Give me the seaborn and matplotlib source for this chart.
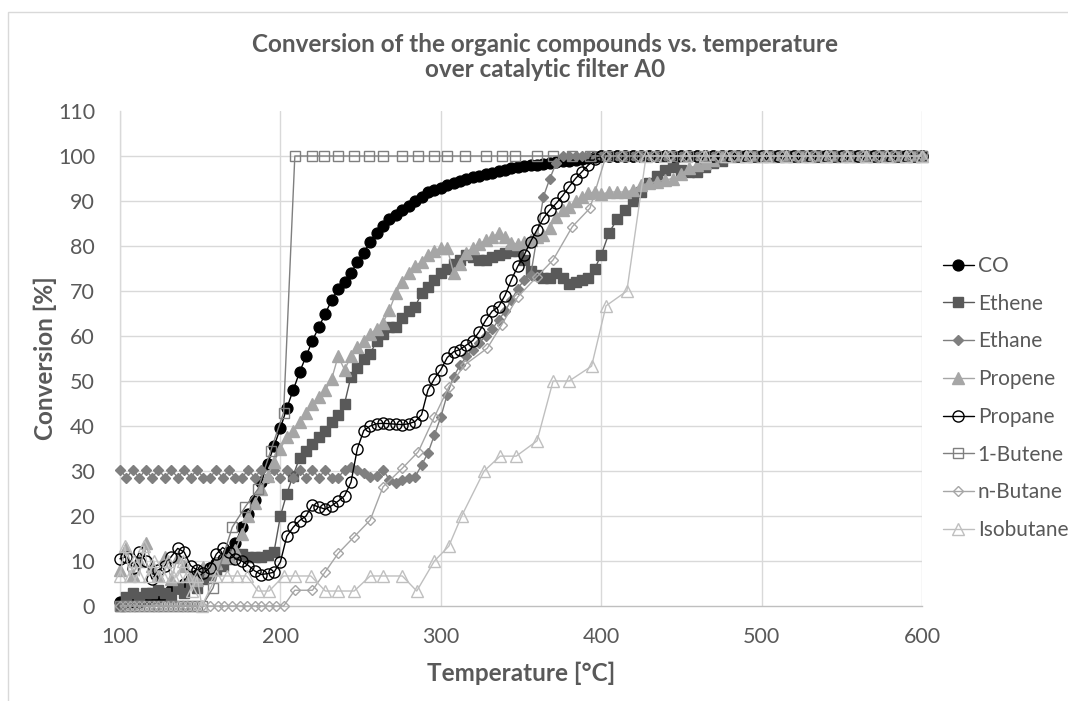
import matplotlib
matplotlib.use("Agg")
import matplotlib.pyplot as plt
import seaborn as sns
import pandas as pd
from matplotlib.patches import Rectangle

# ---------------- data ----------------
temp_dense = [100, 104, 108, 112, 116, 120, 124, 128, 132, 136, 140, 144, 148, 152, 156, 160,
              164, 168, 172, 176, 180, 184, 188, 192, 196, 200, 204, 208, 212, 216, 220, 224,
              228, 232, 236, 240, 244, 248, 252, 256, 260, 264, 268, 272, 276, 280, 284, 288,
              292, 296, 300, 304, 308, 312, 316, 320, 324, 328, 332, 336, 340, 344, 348, 352,
              356, 360, 364, 368, 372, 376, 380, 384, 388, 392, 396, 400,
              405, 410, 415, 420, 425, 430, 435, 440, 445, 450, 455, 460, 465, 470, 475, 480,
              485, 490, 495, 500, 505, 510, 515, 520, 525, 530, 535, 540, 545, 550, 555, 560,
              565, 570, 575, 580, 585, 590, 595, 600]

co = [1, 1, 1, 1, 1.5, 1.5, 2, 2.5, 3.5, 4, 5, 6, 7, 8, 8.5, 9.5,
      10.5, 12, 14, 17.5, 20.5, 23.5, 27.5, 31.5, 35.5, 39.5, 44, 48, 52, 55.5, 59, 62,
      65, 68, 70.5, 72, 74, 76.5, 78.5, 81, 83, 84.5, 86, 87, 88, 89, 90, 91,
      92, 92.5, 93, 93.5, 94, 94.5, 95, 95.3, 95.6, 96, 96.3, 96.7, 97, 97.3, 97.5, 97.7,
      98, 98, 98.2, 98.4, 98.6, 98.8, 99, 99.2, 99.4, 99.6, 99.8, 100,
      100, 100, 100, 100, 100, 100, 100, 100, 100, 100, 100, 100, 100, 100, 100, 100,
      100, 100, 100, 100, 100, 100, 100, 100, 100, 100, 100, 100, 100, 100, 100, 100,
      100, 100, 100, 100, 100, 100, 100, 100]

ethene = [0, 2, 3, 2, 3, 3, 3.5, 3, 2, 4, 3, 5, 4, 6, 7, 8,
          9, 10.5, 11.5, 11.5, 11, 11, 11, 11.3, 12, 20, 25, 29, 33, 34.5, 36, 37.5,
          39, 41, 42.5, 45, 51, 53, 55, 56, 59, 60.5, 62, 62, 64, 65.5, 66.5, 69.5,
          71, 72.5, 74, 75, 76, 77, 78, 77.5, 77, 77, 77.5, 78, 78.5, 79, 79, 77,
          74.5, 73.5, 73, 73, 74, 73, 71.5, 72, 72.5, 73, 75, 78,
          83, 86, 88, 90, 92, 94, 95.5, 97, 97.5, 97, 96.5, 96.5, 97.5, 98.5, 99, 100,
          100, 100, 100, 100, 100, 100, 100, 100, 100, 100, 100, 100, 100, 100, 100, 100,
          100, 100, 100, 100, 100, 100, 100, 100]

ethane = [30.3, 28.5, 30.3, 28.5, 30.3, 28.5, 30.3, 28.5, 30.3, 28.5, 30.3, 28.5, 30.3, 28.5, 28.5, 30.3,
          28.5, 30.3, 28.5, 28.5, 30.3, 28.5, 30.3, 28.5, 30.3, 28.5, 30.3, 28.5, 30.3, 28.5, 30.3, 28.5,
          30.3, 28.5, 28.5, 30.3, 31, 30.3, 29.5, 28.7, 29, 30.3, 28, 27.3, 28, 28.5, 28.7, 31.3,
          34, 38, 42, 47, 51, 53.5, 55.5, 57, 58.5, 60, 61.5, 63.5, 65.5, 68, 70.5, 72.5,
          73.5, 82, 91, 95, 98.5, 100, 100, 100, 100, 100, 100, 100,
          100, 100, 100, 100, 100, 100, 100, 100, 100, 100, 100, 100, 100, 100, 100, 100,
          100, 100, 100, 100, 100, 100, 100, 100, 100, 100, 100, 100, 100, 100, 100, 100,
          100, 100, 100, 100, 100, 100, 100, 100]

propene = [8, 13, 7, 10, 14, 9, 7, 11, 6, 11, 9, 7, 5.8, 8.7, 8, 9.5,
           11, 11, 12.5, 16, 20, 23, 26, 29, 32, 35, 37.5, 39, 41, 43, 45, 46.5,
           48, 50.5, 55.5, 52.5, 55.5, 57.5, 59, 60.5, 61.5, 63, 65.8, 69.5, 72, 74, 75.5, 76.5,
           78, 79, 79.5, 79.5, 74, 76, 78.4, 79.5, 80.5, 81.3, 82, 82.8, 82, 80.6, 80.5, 81,
           81.3, 82, 82.5, 84, 86.5, 88, 88.7, 90, 91, 91.7, 92, 91.5,
           92, 92, 92, 92.4, 93.5, 94, 94.3, 94.7, 95, 96, 97.3, 98, 98.5, 99.2, 100, 100,
           100, 100, 100, 100, 100, 100, 100, 100, 100, 100, 100, 100, 100, 100, 100, 100,
           100, 100, 100, 100, 100, 100, 100, 100]

propane = [10.5, 11, 8.5, 12, 10, 6, 8, 9, 11, 12.8, 12, 9, 8, 7.3, 8.5, 11.5,
           13, 12, 10.5, 10, 9, 7.8, 7, 7.2, 7.5, 9.8, 15.5, 17.5, 19, 20, 22.5, 22,
           21.5, 22.3, 23.3, 24.5, 27.5, 35, 39, 40, 40.5, 40.6, 40.5, 40.4, 40.3, 40.5, 41, 42.5,
           48, 50.5, 52.5, 55.2, 56.5, 57, 58, 59, 61, 63.5, 65.5, 66.5, 69, 72.5, 75.5, 78,
           81, 83.6, 86.2, 88, 89.5, 91.2, 93.2, 95, 96.5, 98, 99.3, 100,
           100, 100, 100, 100, 100, 100, 100, 100, 100, 100, 100, 100, 100, 100, 100, 100,
           100, 100, 100, 100, 100, 100, 100, 100, 100, 100, 100, 100, 100, 100, 100, 100,
           100, 100, 100, 100, 100, 100, 100, 100]

temp_butene1 = [100, 103, 106, 109, 112, 115, 118, 121, 124, 127, 130, 133, 136, 139, 142, 145,
                148, 151, 158, 170, 178, 186, 194, 202, 209, 220, 227, 236, 246, 255, 264, 276,
                286, 296, 304, 315, 328, 338, 346, 360, 370, 382, 393, 404, 414, 424, 434, 444,
                454, 464, 474, 484, 494, 504, 514, 524, 534, 544, 554, 564, 574, 584, 594, 600]
butene1 = [0, 0, 0, 0, 0, 0, 0, 0, 0, 0, 0, 0, 0, 0, 0, 0,
           0, 0, 4, 17.5, 22, 26, 34.5, 43, 100, 100, 100, 100, 100, 100, 100, 100,
           100, 100, 100, 100, 100, 100, 100, 100, 100, 100, 100, 100, 100, 100, 100, 100,
           100, 100, 100, 100, 100, 100, 100, 100, 100, 100, 100, 100, 100, 100, 100, 100]

temp_nbutane = [100, 103, 106, 109, 112, 115, 118, 121, 124, 127, 130, 133, 136, 139, 142, 145,
                148, 151, 156, 161, 165, 170, 175, 179, 184, 188, 193, 197, 202, 209, 220, 228,
                236, 246, 256, 264, 276, 286, 296, 305, 315, 329, 338, 348, 360, 370, 382, 393,
                403, 413, 423, 433, 443, 453, 463, 473, 483, 493, 503, 513, 523, 533, 543, 553,
                563, 573, 583, 593, 600]
nbutane = [0, 0, 0, 0, 0, 0, 0, 0, 0, 0, 0, 0, 0, 0, 0, 0,
           0, 0, 0, 0, 0, 0, 0, 0, 0, 0, 0, 0, 0, 3.5, 3.5, 7.6,
           11.7, 15.4, 19.1, 26.5, 30.6, 34.3, 42, 48.7, 53.6, 57.3, 62.5, 68.7, 73.2, 76.9, 84.3, 88.4,
           100, 100, 100, 100, 100, 100, 100, 100, 100, 100, 100, 100, 100, 100, 100, 100,
           100, 100, 100, 100, 100]

temp_isobutane = [100, 103, 106, 109, 112, 115, 118, 121, 124, 127, 130, 133, 136, 139, 142, 145,
                  148, 151, 160, 167, 173, 179, 186, 193, 202, 209, 219, 228, 236, 246, 256, 264,
                  276, 285, 296, 305, 313, 327, 337, 347, 360, 370, 380, 394, 403, 416, 428, 440,
                  453, 465, 478, 490, 503, 515, 528, 540, 553, 565, 578, 590, 600]
isobutane = [6.67, 13.3, 6.67, 10, 6.67, 13.3, 6.67, 10, 6.67, 6.67, 10, 6.67, 6.67, 10, 6.67, 3.33,
             6.67, 0, 6.67, 6.67, 6.67, 6.67, 3.33, 3.33, 6.67, 6.67, 6.67, 3.33, 3.33, 3.33, 6.67, 6.67,
             6.67, 3.33, 10, 13.3, 20, 30, 33.3, 33.3, 36.7, 50, 50, 53.3, 66.7, 70, 100, 100,
             100, 100, 100, 100, 100, 100, 100, 100, 100, 100, 100, 100, 100]

x_ticks = [100, 200, 300, 400, 500, 600]
y_ticks = [0, 10, 20, 30, 40, 50, 60, 70, 80, 90, 100, 110]

# ---------------- style ----------------
sns.set_theme(style="white")
plt.rcParams['font.family'] = ['Lato', 'DejaVu Sans']
TXT = '#595959'

fig = plt.figure(figsize=(10.68, 7.01), dpi=100)
ax = fig.add_axes([120 / 1068, 1 - 606 / 701, 802 / 1068, 495 / 701])

series = [
    ("CO", temp_dense, co, dict(color='black', marker='o', ms=7.8, mfc='black', mec='black')),
    ("Ethene", temp_dense, ethene, dict(color='#595959', marker='s', ms=7.2, mfc='#595959', mec='#595959')),
    ("Ethane", temp_dense, ethane, dict(color='#7f7f7f', marker='D', ms=5.6, mfc='#7f7f7f', mec='#7f7f7f')),
    ("Propene", temp_dense, propene, dict(color='#a6a6a6', marker='^', ms=8.2, mfc='#a6a6a6', mec='#a6a6a6')),
    ("Propane", temp_dense, propane, dict(color='black', marker='o', ms=8.0, mfc='none', mec='black')),
    ("1-Butene", temp_butene1, butene1, dict(color='#7f7f7f', marker='s', ms=7.2, mfc='none', mec='#7f7f7f')),
    ("n-Butane", temp_nbutane, nbutane, dict(color='#a6a6a6', marker='D', ms=4.9, mfc='none', mec='#a6a6a6')),
    ("Isobutane", temp_isobutane, isobutane, dict(color='#bfbfbf', marker='^', ms=8.2, mfc='none', mec='#bfbfbf')),
]

for i, (name, tx, vy, st) in enumerate(series):
    df = pd.DataFrame({"Temperature": tx, "Conversion": vy})
    sns.lineplot(data=df, x="Temperature", y="Conversion", ax=ax, sort=False, estimator=None,
                 label=name, color=st['color'], marker=st['marker'], markersize=st['ms'],
                 markerfacecolor=st['mfc'], markeredgecolor=st['mec'], markeredgewidth=1.0,
                 linewidth=1.0, clip_on=False, zorder=3 + i)

ax.set_xlim(100, 600)
ax.set_ylim(0, 110)
ax.set_xticks(x_ticks)
ax.set_yticks(y_ticks)
ax.set_xlabel("")
ax.set_ylabel("")

ax.grid(True, color='#d9d9d9', linewidth=1.0)
ygl = ax.yaxis.get_gridlines()
ygl[-1].set_visible(False)
ygl[0].set_visible(False)
ax.set_axisbelow(True)

for side in ['top', 'right']:
    ax.spines[side].set_visible(False)
ax.spines['left'].set_color('#d9d9d9')
ax.spines['bottom'].set_color('#bfbfbf')
ax.spines['left'].set_linewidth(1.0)
ax.spines['bottom'].set_linewidth(1.0)

ax.tick_params(axis='both', which='major', direction='out', length=5, width=1.0,
               color='#d9d9d9', labelcolor=TXT, labelsize=15.5)
ax.tick_params(axis='x', pad=10)
ax.tick_params(axis='y', pad=13)

fig.text(545 / 1068, 1 - 57 / 701, "Conversion of the organic compounds vs. temperature\nover catalytic filter A0",
         ha='center', va='center', fontsize=17.5, fontweight='bold', color=TXT, linespacing=1.1)
fig.text(45 / 1068, 1 - 358 / 701, "Conversion [%]", rotation=90, ha='center', va='center',
         fontsize=17.5, fontweight='bold', color=TXT)
fig.text(521 / 1068, 1 - 673 / 701, "Temperature [°C]", ha='center', va='center',
         fontsize=17.5, fontweight='bold', color=TXT)

handles, labels = ax.get_legend_handles_labels()
leg = ax.legend(handles, labels, loc='center left', bbox_to_anchor=(935 / 1068, 1 - 398 / 701),
                bbox_transform=fig.transFigure, frameon=False, fontsize=15,
                handlelength=1.45, handletextpad=0.2, labelspacing=0.85, borderaxespad=0)
for t in leg.get_texts():
    t.set_color(TXT)

fig.patches.append(Rectangle((8 / 1068, -0.02), 1.1, 1 - 12 / 701 + 0.02, transform=fig.transFigure,
                             fill=False, edgecolor='#d9d9d9', linewidth=1.0, zorder=0))

fig.savefig("out.png", dpi=100)
